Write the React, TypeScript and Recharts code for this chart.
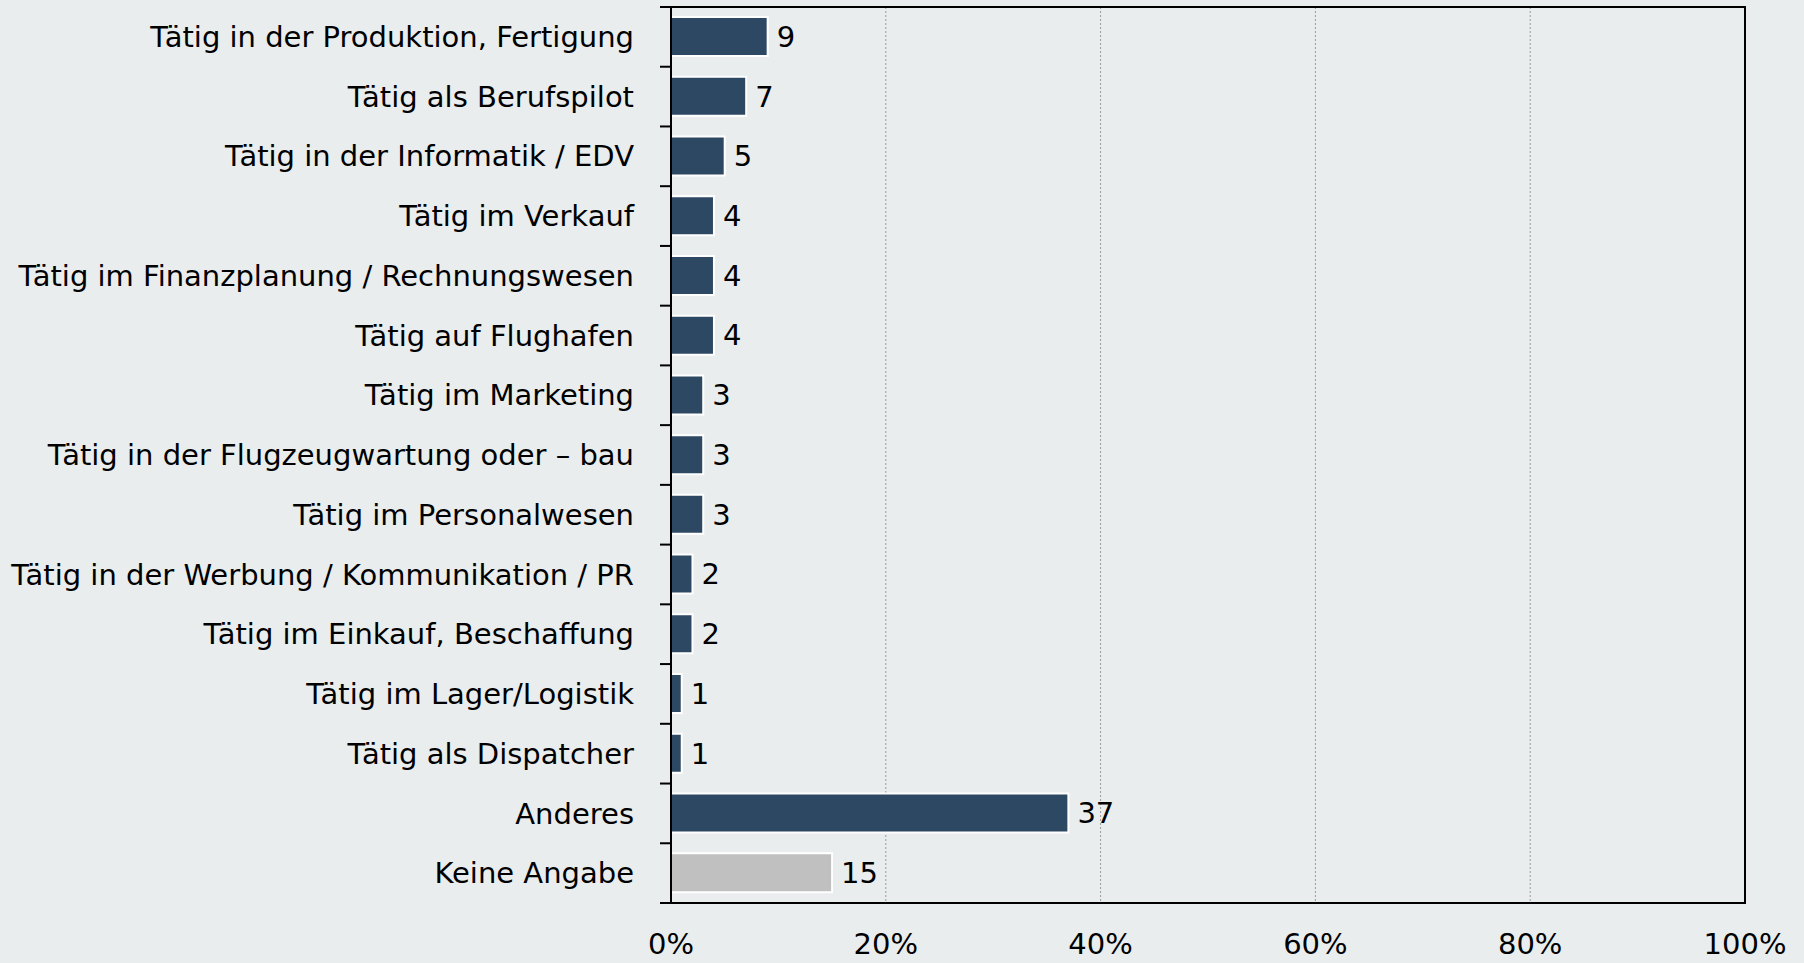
import React from 'react';
import {
  BarChart,
  Bar,
  XAxis,
  YAxis,
  CartesianGrid,
  Cell,
  LabelList,
  ReferenceArea,
} from 'recharts';

const categories = [
  'Tätig in der Produktion, Fertigung',
  'Tätig als Berufspilot',
  'Tätig in der Informatik / EDV',
  'Tätig im Verkauf',
  'Tätig im Finanzplanung / Rechnungswesen',
  'Tätig auf Flughafen',
  'Tätig im Marketing',
  'Tätig in der Flugzeugwartung oder – bau',
  'Tätig im Personalwesen',
  'Tätig in der Werbung / Kommunikation / PR',
  'Tätig im Einkauf, Beschaffung',
  'Tätig im Lager/Logistik',
  'Tätig als Dispatcher',
  'Anderes',
  'Keine Angabe',
];
const values = [9, 7, 5, 4, 4, 4, 3, 3, 3, 2, 2, 1, 1, 37, 15];
const xTicks = [0, 20, 40, 60, 80, 100];

const data = categories.map((name, i) => ({ name, value: values[i] }));

const W = 1804;
const H = 963;
const TOP = 7;
const BOTTOM = 903;
const AXIS_X = 671;
const BAND = (BOTTOM - TOP) / categories.length;
const FONT = '"DejaVu Sans", Verdana, sans-serif';
const FS = 29;

// label at band centre, tick mark at the band's top edge (and the last one's bottom)
const CategoryTick = (props: any) => {
  const { x, y, payload, index } = props;
  const top = y - BAND / 2;
  return (
    <g>
      <line x1={AXIS_X - 11} x2={AXIS_X} y1={top} y2={top} stroke="#000" strokeWidth={2} />
      {index === categories.length - 1 && (
        <line x1={AXIS_X - 11} x2={AXIS_X} y1={top + BAND} y2={top + BAND} stroke="#000" strokeWidth={2} />
      )}
      <text x={x} y={y} dy="0.35em" textAnchor="end" fill="#000" fontSize={FS} fontFamily={FONT}>
        {payload.value}
      </text>
    </g>
  );
};

export default function App() {
  return (
    <div style={{ position: 'absolute', left: 0, top: 0, width: W, height: H, background: '#E9EDEE' }}>
      <BarChart
        width={W}
        height={H}
        layout="vertical"
        data={data}
        margin={{ top: TOP, right: W - 1745, bottom: 0, left: 0 }}
        barSize={39}
      >
        <CartesianGrid horizontal={false} stroke="#9a9a9a" strokeDasharray="2 2" />
        <XAxis
          type="number"
          domain={[0, 100]}
          ticks={xTicks}
          tickFormatter={(v) => `${v}%`}
          tickLine={false}
          tickSize={0}
          tickMargin={30}
          axisLine={{ stroke: '#000', strokeWidth: 2 }}
          tick={{ fill: '#000', fontSize: FS, fontFamily: FONT }}
          height={H - BOTTOM}
        />
        <YAxis
          type="category"
          dataKey="name"
          width={AXIS_X}
          tickLine={false}
          tickSize={11}
          tickMargin={26}
          axisLine={{ stroke: '#000', strokeWidth: 2 }}
          tick={<CategoryTick />}
          interval={0}
        />
        <ReferenceArea x1={0} x2={100} fill="none" stroke="#000" strokeWidth={2} ifOverflow="visible" />
        <Bar dataKey="value" stroke="#fff" strokeWidth={2} isAnimationActive={false}>
          {data.map((d, i) => (
            <Cell key={d.name} fill={i === data.length - 1 ? '#C0C0C0' : '#2D4863'} />
          ))}
          <LabelList
            dataKey="value"
            position="right"
            offset={9}
            fill="#000"
            fontSize={FS}
            fontFamily={FONT}
          />
        </Bar>
      </BarChart>
    </div>
  );
}
